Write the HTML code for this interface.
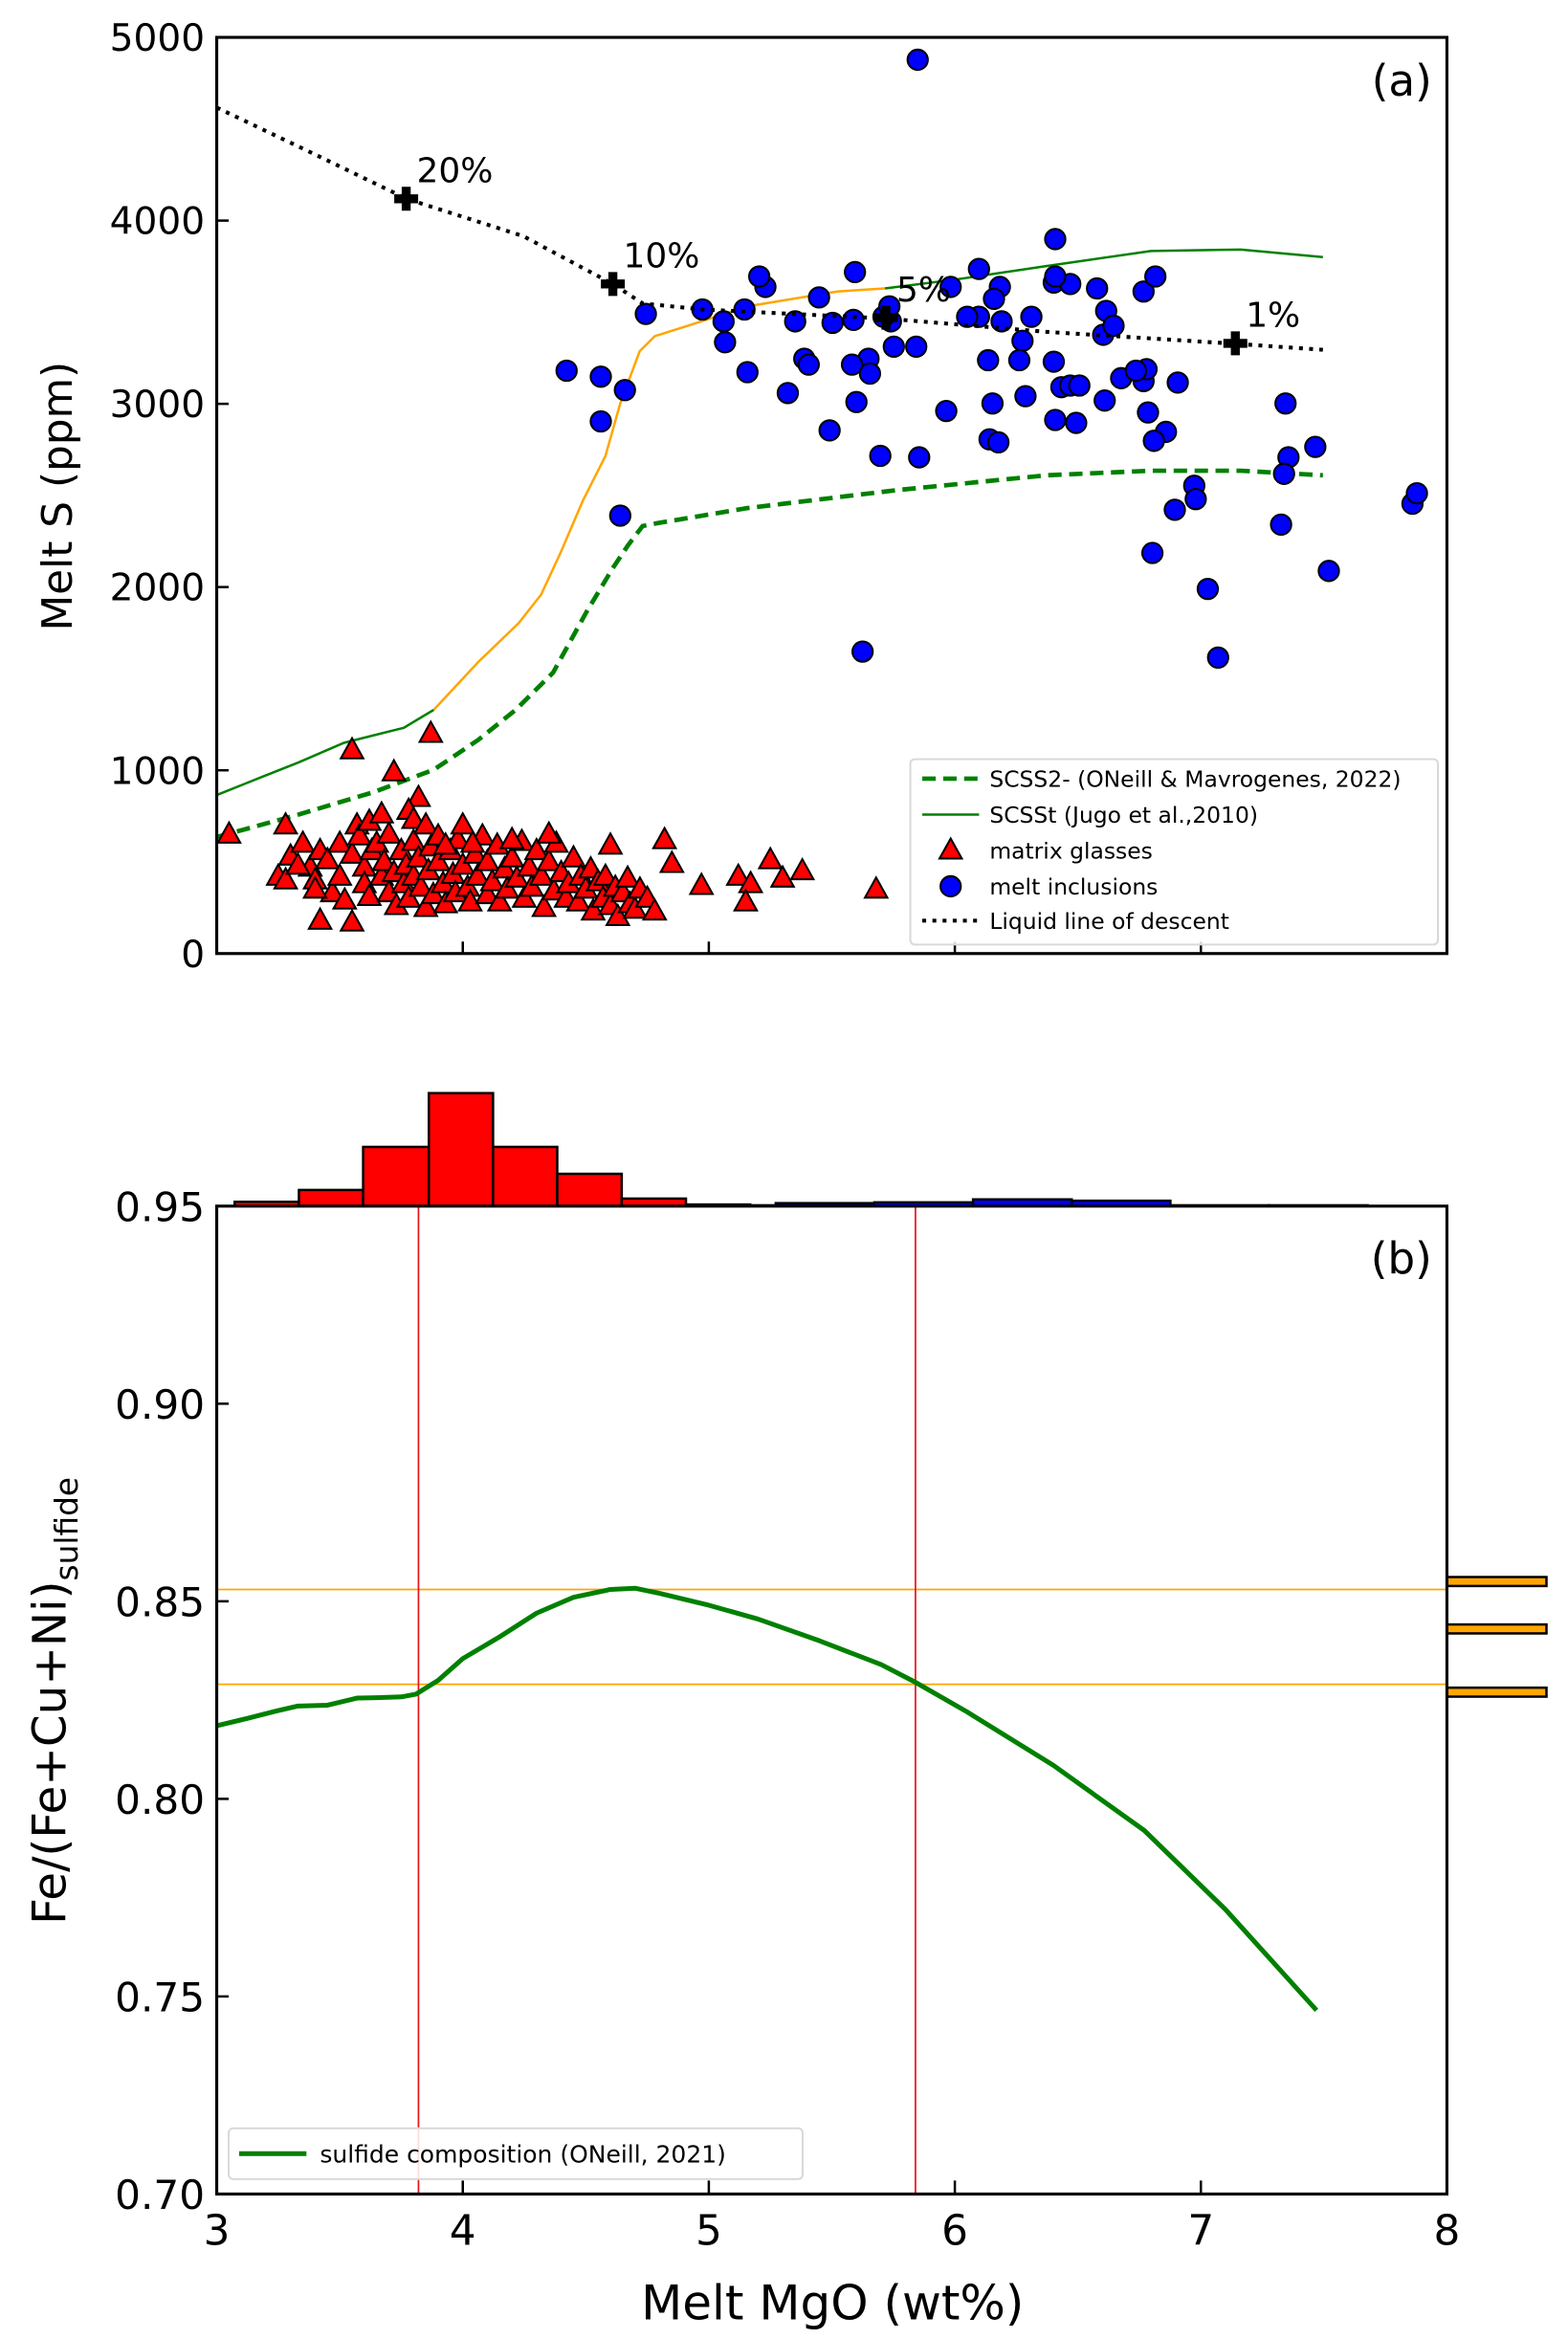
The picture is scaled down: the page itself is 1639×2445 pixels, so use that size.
<!DOCTYPE html>
<html><head><meta charset="utf-8"><style>
html,body{margin:0;padding:0;background:#fff}
svg{display:block}
text{font-family:"DejaVu Sans","Liberation Sans",sans-serif;fill:#000}
</style></head><body>
<svg id="fig" width="1639" height="2445" viewBox="0 0 1049 1565" preserveAspectRatio="none" xmlns="http://www.w3.org/2000/svg">
<rect x="0" y="0" width="1049" height="1565" fill="#fff"/>
<g id="pa"></g>
<g id="pb"></g>
</svg>
<script>
// ---------- Panel (a) data ----------
const glassMgO=[3.05,3.28,3.55,3.72,3.87,3.82,3.78,3.8,3.25,3.28,3.3,3.35,3.38,3.4,3.42,3.45,3.47,3.5,3.5,3.52,3.55,3.57,3.58,3.6,3.6,3.62,3.63,3.65,3.67,3.68,3.7,3.7,3.72,3.73,3.75,3.76,3.77,3.78,3.8,3.8,3.82,3.83,3.85,3.85,3.86,3.87,3.88,3.9,3.9,3.92,3.93,3.95,3.96,3.97,3.98,4.0,4.0,4.02,4.03,4.05,4.06,4.08,4.1,4.1,4.12,4.14,4.15,4.17,4.18,4.2,4.22,4.24,4.25,4.27,4.28,4.3,4.32,4.33,4.35,4.37,4.38,4.4,4.42,4.43,4.45,4.47,4.48,4.5,4.52,4.53,4.55,4.57,4.58,4.6,4.62,4.63,4.65,4.67,4.68,4.7,4.72,4.75,4.78,4.82,4.85,4.97,5.12,5.17,5.15,5.25,5.3,5.38,5.68,3.42,3.55,3.4,3.33,3.62,3.67,3.93,4.04,4.2,4.35,4.6];
const glassS=[650,700,1110,990,1200,850,780,730,420,400,530,600,470,400,560,510,330,600,420,290,540,700,640,470,380,310,560,600,420,500,330,650,440,260,560,380,480,300,610,420,520,360,250,700,450,580,320,640,500,380,270,560,430,330,620,480,700,360,280,540,420,640,320,500,390,590,280,460,350,520,410,610,300,470,360,560,420,250,500,340,600,440,300,380,520,280,420,350,460,230,390,300,420,260,360,200,330,410,270,240,350,300,230,620,490,370,420,380,280,510,410,450,350,180,170,350,480,720,760,590,600,620,650,590];
const incMgO=[5.849,6.408,4.422,4.561,4.659,4.561,4.640,4.744,4.974,5.145,5.230,5.205,5.066,5.060,5.157,5.321,5.388,5.406,5.351,5.448,5.594,5.588,5.649,5.655,5.582,5.752,5.740,5.843,5.697,5.600,5.855,5.965,5.491,5.710,5.734,5.503,5.983,6.098,6.183,6.098,6.050,6.159,6.135,6.190,6.153,6.141,6.177,6.275,6.311,6.262,6.287,6.402,6.469,6.402,6.433,6.469,6.506,6.493,6.408,6.578,6.615,6.603,6.645,6.609,6.785,6.767,6.779,6.767,6.815,6.803,6.894,6.973,6.979,6.858,6.809,6.906,7.028,7.070,7.344,7.356,7.338,7.326,7.465,7.520,7.860,7.878,5.625,6.676,6.736,6.408];
const incS=[4878,3899,3181,3148,3075,2904,2390,3491,3515,3515,3638,3695,3336,3450,3173,3059,3246,3214,3450,3581,3719,3458,3246,3165,3214,3312,3450,3312,2716,3010,2708,2961,2855,3475,3532,3442,3638,3736,3638,3475,3475,3573,3238,3450,3002,2806,2790,3344,3475,3238,3042,3662,3654,3230,3091,3100,3100,2896,2912,3630,3507,3377,3426,3018,2953,3124,3189,3613,3695,2186,2422,2553,2480,2847,2798,3116,1990,1615,3002,2708,2618,2341,2765,2088,2455,2512,1648,3140,3181,3695];
const lldMgO=[3.0,3.395,3.772,4.246,4.610,4.731,4.974,5.715,6.371,7.137,7.496];
const lldS=[4617,4364,4119,3915,3654,3548,3515,3466,3393,3328,3295];
const crossMgO=[3.77,4.61,5.72,7.14];
const crossS=[4119,3654,3470,3330];
const crossLabels=["20%","10%","5%","1%"];
const scsstLowMgO=[3.0,3.182,3.334,3.517,3.76,3.882];
const scsstLowS=[865,963,1044,1150,1232,1330];
const scsstOrMgO=[3.882,4.063,4.227,4.318,4.397,4.488,4.580,4.640,4.719,4.780,4.914,5.157,5.521,5.716];
const scsstOrS=[1330,1591,1803,1958,2186,2471,2716,3002,3287,3369,3426,3532,3613,3630];
const scsstHiMgO=[5.716,6.007,6.372,6.797,7.162,7.496];
const scsstHiS=[3630,3679,3752,3834,3842,3801];
const scss2MgO=[3.0,3.334,3.638,3.882,4.063,4.215,4.367,4.501,4.610,4.671,4.731,4.792,5.157,5.764,6.372,6.797,7.162,7.496];
const scss2S=[636,759,881,1003,1166,1330,1533,1860,2104,2227,2333,2349,2431,2529,2610,2635,2635,2610];
const aYTicks=[0,1000,2000,3000,4000,5000];
const xTicks=[3,4,5,6,7,8];
// ---------- Panel (b) data ----------
const sulfMgO=[3.0,3.12,3.24,3.33,3.45,3.57,3.65,3.75,3.81,3.9,4.0,4.15,4.3,4.45,4.6,4.7,4.8,5.0,5.2,5.45,5.7,5.84,6.05,6.4,6.77,7.1,7.47];
const sulfVal=[.8185,.8203,.8222,.8235,.8237,.8255,.8256,.8258,.8265,.8300,.8355,.8410,.8470,.8510,.8530,.8533,.8520,.8490,.8455,.8400,.8340,.8295,.8220,.8085,.7920,.7720,.7465];
const vLines=[3.82,5.84];
const hLines=[0.853,0.829];
const bYTicks=[0.70,0.75,0.80,0.85,0.90,0.95];
const redEdges=[3.073,3.334,3.595,3.862,4.123,4.384,4.646,4.907,5.168];
const redCounts=[0.8,3,11,21,11,6,1.4,0.3];
const blueEdges=[4.470,4.871,5.272,5.673,6.074,6.475,6.876,7.277,7.678];
const blueCounts=[0.15,0.15,0.55,0.7,1.25,1.0,0.15,0.15];
const sideVals=[0.855,0.843,0.827];
const sideCounts=[18,18,18];

const NS="http://www.w3.org/2000/svg";
function mk(parent,tag,attrs,txt){const e=document.createElementNS(NS,tag);for(const k in attrs)e.setAttribute(k,attrs[k]);if(txt!==undefined)e.textContent=txt;parent.appendChild(e);return e;}
const L=145,R=968,aT=25,aB=638,bT=807,bB=1468;
const X=v=>L+(v-3)*(R-L)/5;
const Ya=s=>aB-s*(aB-aT)/5000;
const Yb=v=>bT+(0.95-v)*(bB-bT)/0.25;
const pa=document.getElementById('pa'),pb=document.getElementById('pb');
function pts(xs,ys,fy){return xs.map((x,i)=>X(x).toFixed(2)+','+fy(ys[i]).toFixed(2)).join(' ');}

const defs=mk(document.getElementById('fig'),'defs',{});
const cpa=mk(defs,'clipPath',{id:'cpa'});mk(cpa,'rect',{x:L,y:aT,width:R-L,height:aB-aT});
const cpb=mk(defs,'clipPath',{id:'cpb'});mk(cpb,'rect',{x:L,y:bT,width:R-L,height:bB-bT});

let e;
e=mk(pa,'polyline',{points:pts(scss2MgO,scss2S,Ya),fill:'none',stroke:'#008000','stroke-width':3,'stroke-dasharray':'9,5'});

e=mk(pa,'polyline',{points:pts(scsstLowMgO,scsstLowS,Ya),fill:'none',stroke:'#008000','stroke-width':1.6});

e=mk(pa,'polyline',{points:pts(scsstOrMgO,scsstOrS,Ya),fill:'none',stroke:'#ffa500','stroke-width':1.6});

e=mk(pa,'polyline',{points:pts(scsstHiMgO,scsstHiS,Ya),fill:'none',stroke:'#008000','stroke-width':1.6});

const gTri=mk(pa,'g',{'clip-path':'url(#cpa)'});
glassMgO.forEach((m,i)=>{const x=X(m),y=Ya(glassS[i]);
 const t=mk(gTri,'polygon',{points:`${x},${y-8} ${x-7.5},${y+5.5} ${x+7.5},${y+5.5}`,fill:'#ff0000',stroke:'#000','stroke-width':1.3});
 
 });
const gCirc=mk(pa,'g',{});
incMgO.forEach((m,i)=>{
 const c=mk(gCirc,'circle',{cx:X(m),cy:Ya(incS[i]),r:6.8,fill:'#0000ff',stroke:'#000','stroke-width':1.3});
 
 });
e=mk(pa,'polyline',{points:pts(lldMgO,lldS,Ya),fill:'none',stroke:'#000','stroke-width':2.6,'stroke-dasharray':'2.6,4.2'});

crossMgO.forEach((m,i)=>{const x=X(m),y=Ya(crossS[i]);
 const c=mk(pa,'path',{d:`M${x-3},${y-8}h6v5h5v6h-5v5h-6v-5h-5v-6h5z`,fill:'#000'});
 
 
 const t=mk(pa,'text',{x:x+7,y:y-11,'font-size':23},crossLabels[i]);
 
 });
mk(pa,'rect',{x:L,y:aT,width:R-L,height:aB-aT,fill:'none',stroke:'#000','stroke-width':2,});
aYTicks.forEach(v=>{const y=Ya(v);
 mk(pa,'line',{x1:L,y1:y,x2:L+8,y2:y,stroke:'#000','stroke-width':1.6});
 const t=mk(pa,'text',{x:L-8,y:y+9,'font-size':25,'text-anchor':'end'},String(v));
 
 });
xTicks.forEach(v=>{if(v===3||v===8)return;const x=X(v);mk(pa,'line',{x1:x,y1:aB,x2:x,y2:aB-8,stroke:'#000','stroke-width':1.6});});
mk(pa,'text',{x:48,y:332,'font-size':28,'text-anchor':'middle',transform:'rotate(-90 48 332)',},'Melt S (ppm)');
mk(pa,'text',{x:958,y:64,'font-size':29,'text-anchor':'end',},'(a)');
const lg=mk(pa,'g',{});
mk(lg,'rect',{x:609,y:508,width:353,height:124,rx:3,fill:'#fff','fill-opacity':0.85,stroke:'#d9d9d9','stroke-width':1.3});
const lgy=[521,545,569,593,616];
const lgt=['SCSS2- (ONeill & Mavrogenes, 2022)','SCSSt (Jugo et al.,2010)','matrix glasses','melt inclusions','Liquid line of descent'];
mk(lg,'line',{x1:617,y1:lgy[0],x2:655,y2:lgy[0],stroke:'#008000','stroke-width':3,'stroke-dasharray':'9,5'});
mk(lg,'line',{x1:617,y1:lgy[1],x2:655,y2:lgy[1],stroke:'#008000','stroke-width':1.6});
mk(lg,'polygon',{points:`636,${lgy[2]-8} 628.5,${lgy[2]+5.5} 643.5,${lgy[2]+5.5}`,fill:'#ff0000',stroke:'#000','stroke-width':1.3});
mk(lg,'circle',{cx:636,cy:lgy[3],r:6.8,fill:'#0000ff',stroke:'#000','stroke-width':1.3});
mk(lg,'line',{x1:617,y1:lgy[4],x2:655,y2:lgy[4],stroke:'#000','stroke-width':2.6,'stroke-dasharray':'2.6,4.2'});
lgt.forEach((s,i)=>{const t=mk(lg,'text',{x:662,y:lgy[i]+5.5,'font-size':15},s);
 
 });

const HK=3.6;
function bars(edges,counts,fill,name){counts.forEach((c,i)=>{const x0=X(edges[i]),x1=X(edges[i+1]),h=c*HK;
 const r=mk(pb,'rect',{x:x0,y:bT-h,width:x1-x0,height:h,fill:fill,stroke:'#000','stroke-width':1.6});
 
 });}
bars(blueEdges,blueCounts,'#0000ff','hist-bar-inclusions');
bars(redEdges,redCounts,'#ff0000','hist-bar-glasses');
sideVals.forEach((v,i)=>{const y=Yb(v);
 const r=mk(pb,'rect',{x:R,y:y-3,width:sideCounts[i]*3.7,height:6,fill:'#ffa500',stroke:'#000','stroke-width':1.6});
 
 });
const gb=mk(pb,'g',{'clip-path':'url(#cpb)'});
hLines.forEach(v=>{const l=mk(gb,'line',{x1:L,y1:Yb(v),x2:R,y2:Yb(v),stroke:'#ffa500','stroke-width':1.1});
 
 });
vLines.forEach(v=>{const l=mk(gb,'line',{x1:X(v),y1:bT,x2:X(v),y2:bB,stroke:'#e8141c','stroke-width':1.1});
 
 });
e=mk(gb,'polyline',{points:pts(sulfMgO,sulfVal,Yb),fill:'none',stroke:'#008000','stroke-width':3.2,'stroke-linejoin':'round'});

mk(pb,'rect',{x:L,y:bT,width:R-L,height:bB-bT,fill:'none',stroke:'#000','stroke-width':2,});
bYTicks.forEach(v=>{const y=Yb(v);
 mk(pb,'line',{x1:L,y1:y,x2:L+8,y2:y,stroke:'#000','stroke-width':1.6});
 const t=mk(pb,'text',{x:L-8,y:y+10,'font-size':27,'text-anchor':'end'},v.toFixed(2));
 
 });
xTicks.forEach(v=>{const x=X(v);
 if(v!==3&&v!==8)mk(pb,'line',{x1:x,y1:bB,x2:x,y2:bB-9,stroke:'#000','stroke-width':1.6});
 const t=mk(pb,'text',{x:x,y:bB+34,'font-size':28,'text-anchor':'middle'},String(v));
 
 });
mk(pb,'text',{x:557,y:1552,'font-size':32,'text-anchor':'middle',},'Melt MgO (wt%)');
const yt=mk(pb,'text',{x:44,y:1138,'font-size':31,'text-anchor':'middle',transform:'rotate(-90 44 1138)',});
mk(yt,'tspan',{},'Fe/(Fe+Cu+Ni)');
mk(yt,'tspan',{'font-size':21,dy:8},'sulfide');
mk(pb,'text',{x:958,y:852,'font-size':29,'text-anchor':'end',},'(b)');
const lb=mk(pb,'g',{});
mk(lb,'rect',{x:153,y:1424,width:384,height:34,rx:3,fill:'#fff','fill-opacity':0.85,stroke:'#d9d9d9','stroke-width':1.3});
mk(lb,'line',{x1:160,y1:1441,x2:205,y2:1441,stroke:'#008000','stroke-width':3.2});
mk(lb,'text',{x:214,y:1447,'font-size':16,},'sulfide composition (ONeill, 2021)');
</script>
</body></html>
